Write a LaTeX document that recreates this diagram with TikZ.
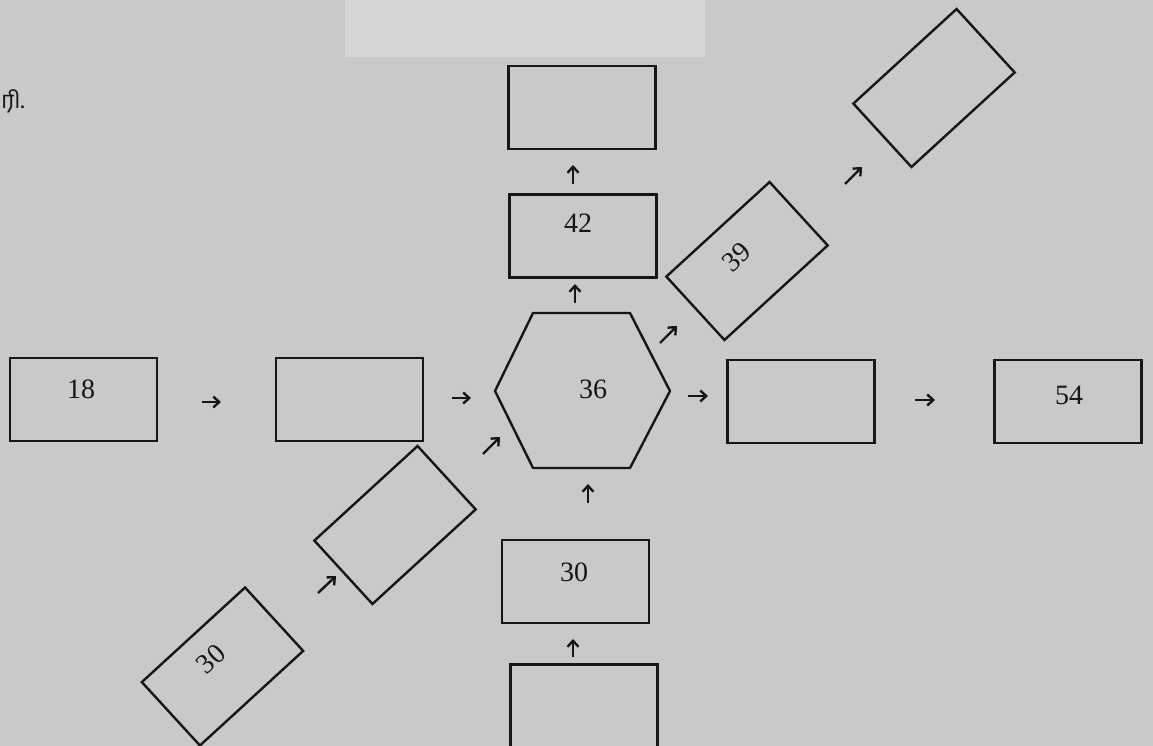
\documentclass[tikz,border=0pt]{standalone}
\usepackage{fontspec}
\setmainfont{Liberation Serif}
\newfontfamily\tamilfont[Script=Tamil]{Hind Madurai}
\usetikzlibrary{arrows.meta}
\definecolor{paper}{RGB}{201,201,199}
\definecolor{paperlight}{RGB}{214,214,212}
\definecolor{ink}{RGB}{22,22,22}
\newcommand{\boxnum}[3]{\raisebox{#2}[0pt][0pt]{\kern#1 #3}}
\tikzset{
  box/.style={draw=ink, line width=2.4pt, minimum width=147pt, minimum height=83pt, inner sep=0pt,
     text=ink, font=\fontsize{28}{32}\selectfont},
  tbox/.style={draw=ink, line width=2.4pt, minimum width=140pt, minimum height=86pt, inner sep=0pt, rotate=42.5,
     text=ink, font=\fontsize{28}{32}\selectfont},
  num/.style={text=ink, font=\fontsize{28}{32}\selectfont, inner sep=0pt},
  arr/.style={draw=ink, line width=2.4pt, -{Straight Barb[length=6pt,width=11pt,line width=2.4pt]}},
}
\begin{document}
\begin{tikzpicture}[x=1pt,y=1pt]
\useasboundingbox (0,0) rectangle (1153,-746);
\clip (0,0) rectangle (1153,-746);
\fill[paper] (0,0) rectangle (1153,-746);
\fill[paperlight] (345,0) rectangle (705,-57);
% stray Tamil fragment
\node[text=ink, font=\tamilfont\fontsize{24}{28}\selectfont, anchor=west, inner sep=0pt] (frag) at (1,-101) {ரி.};
% boxes
\node[box] (b18) at (83.5,-399.5) {\boxnum{-5pt}{1pt}{18}};
\node[box] (b2) at (349.5,-399.5) {};
\node[box] (bR) at (801,-401.5) {};
\node[box] (b54) at (1068,-401.5) {\boxnum{2pt}{-3pt}{54}};
\node[box] (b42) at (583,-236) {\boxnum{-10pt}{3pt}{42}};
\node[box] (btop) at (582,-107.5) {};
\node[box] (b30) at (575.5,-581.5) {\boxnum{-3pt}{0pt}{30}};
\node[box] (bbot) at (584,-706) {};
\node[tbox] (b39) at (747,-261) {\boxnum{-10pt}{1pt}{39}};
\node[tbox] (bTR) at (934,-88) {};
\node[tbox] (bLL) at (395,-525) {};
\node[tbox] (br30) at (222.5,-666.5) {\boxnum{-7pt}{4pt}{30}};
% hexagon
\node[num] (t36) at (593,-389) {36};
\coordinate (hex) at (582,-391);
\draw[draw=ink, line width=2.4pt, line join=round] (hex) ++(-87,0) -- ++(38,78) -- ++(97,0) -- ++(40,-78) -- ++(-40,-77) -- ++(-97,0) -- cycle;
% arrow end points
\coordinate (a1s) at (202,-402);  \coordinate (a1e) at (221,-402);
\coordinate (a2s) at (452,-398);  \coordinate (a2e) at (471,-398);
\coordinate (a3s) at (688,-396);  \coordinate (a3e) at (708,-396);
\coordinate (a4s) at (915,-400);  \coordinate (a4e) at (935,-400);
\coordinate (a5s) at (575,-303);  \coordinate (a5e) at (575,-284);
\coordinate (a6s) at (573,-184);  \coordinate (a6e) at (573,-165);
\coordinate (a7s) at (588,-503);  \coordinate (a7e) at (588,-484);
\coordinate (a8s) at (573,-657);  \coordinate (a8e) at (573,-639);
\coordinate (a9s) at (660,-343);  \coordinate (a9e) at (677,-326);
\coordinate (a10s) at (845,-184); \coordinate (a10e) at (862,-167);
\coordinate (a11s) at (318,-593); \coordinate (a11e) at (336,-576);
\coordinate (a12s) at (483,-454); \coordinate (a12e) at (500,-437);
\foreach \i in {1,...,12} {\draw[arr] (a\i s) -- (a\i e);}
\end{tikzpicture}
\end{document}
